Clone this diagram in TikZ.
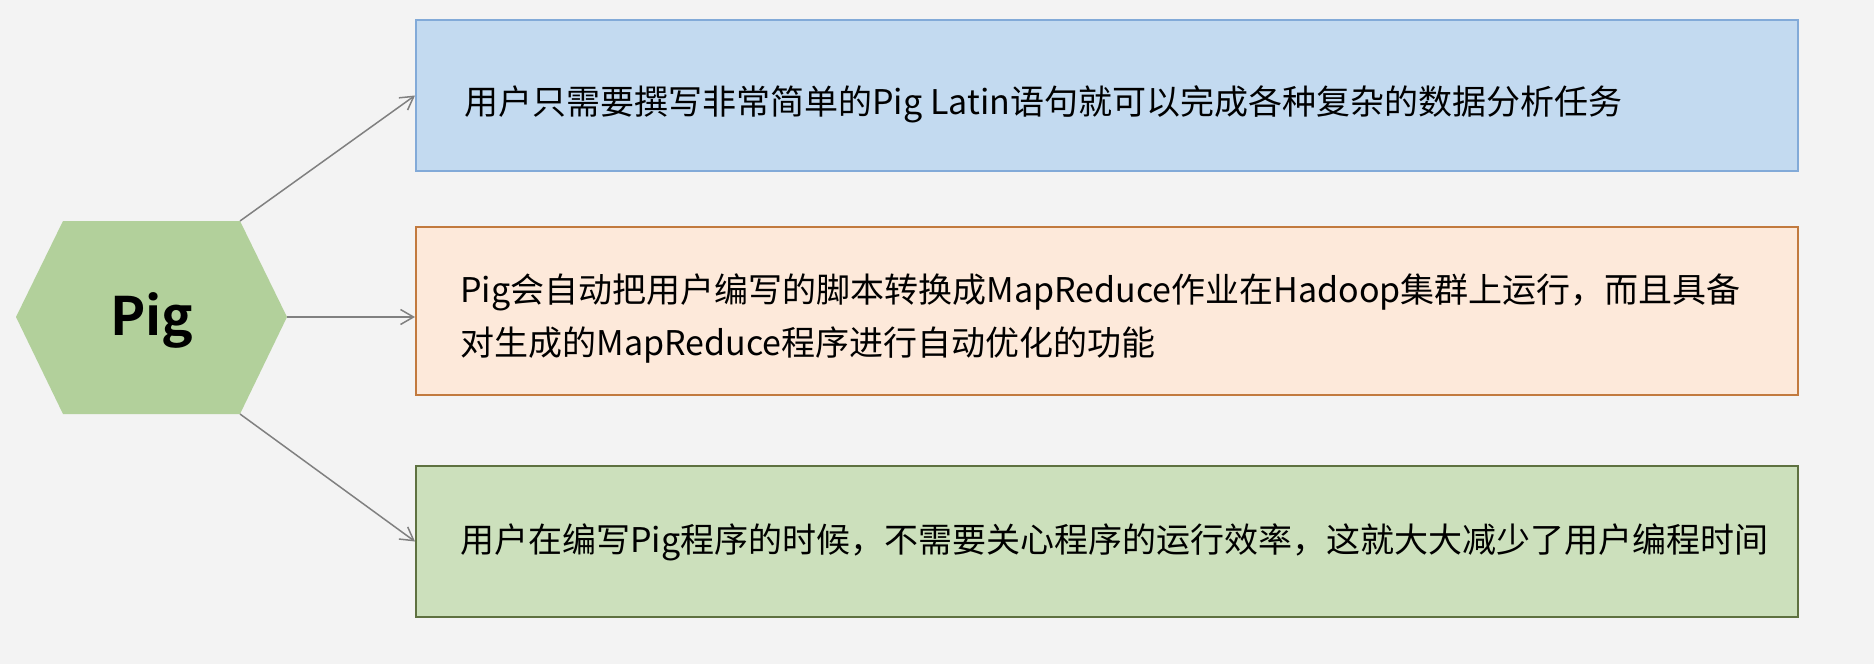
\documentclass[tikz,border=0pt]{standalone}
\usepackage{fontspec}
\setmainfont{Noto Sans CJK SC}[BoldFont={Noto Sans CJK SC Bold}]
\usetikzlibrary{arrows.meta}
\definecolor{bg}{HTML}{F3F3F3}
\definecolor{hexfill}{HTML}{B2D09B}
\definecolor{bluefill}{HTML}{C3DAF0}
\definecolor{blueline}{HTML}{82AAD8}
\definecolor{orangefill}{HTML}{FDE9DA}
\definecolor{orangeline}{HTML}{C27A3E}
\definecolor{greenfill}{HTML}{CCE0BC}
\definecolor{greenline}{HTML}{5E7140}
\definecolor{conncol}{HTML}{808080}
\tikzset{
  box/.style={draw, line width=1pt, inner sep=0pt, anchor=north west, minimum width=691pt},
  txt/.style={anchor=west, inner sep=0pt, align=left, font=\fontsize{17}{26.5}\selectfont},
  conn/.style={draw=conncol, line width=0.75pt, -{Straight Barb[length=6.5pt,width=7.5pt]}}
}
\begin{document}
\begin{tikzpicture}[x=0.5pt,y=-0.5pt]
\fill[bg] (0,0) rectangle (1874,664);
\useasboundingbox (0,0) rectangle (1874,664);
% hexagon
\coordinate (h1) at (16,317);
\coordinate (h2) at (63,221);
\coordinate (h3) at (240,221);
\coordinate (h4) at (287,317);
\coordinate (h5) at (240,414);
\coordinate (h6) at (63,414);
\fill[hexfill] (h1)--(h2)--(h3)--(h4)--(h5)--(h6)--cycle;
\node[font=\bfseries\fontsize{26.5}{30}\selectfont] (hex) at (152,320) {Pig};
% boxes
\node[box, draw=blueline, fill=bluefill, minimum height=75.5pt] (b1) at (415,19) {};
\node[box, draw=orangeline, fill=orangefill, minimum height=84pt] (b2) at (415,226) {};
\node[box, draw=greenline, fill=greenfill, minimum height=75.5pt] (b3) at (415,465) {};
% texts
\node[txt] (t1) at (464,104) {用户只需要撰写非常简单的Pig Latin语句就可以完成各种复杂的数据分析任务};
\node[txt] (t2) at (460,319) {Pig会自动把用户编写的脚本转换成MapReduce作业在Hadoop集群上运行，而且具备\\对生成的MapReduce程序进行自动优化的功能};
\node[txt] (t3) at (460,542) {用户在编写Pig程序的时候，不需要关心程序的运行效率，这就大大减少了用户编程时间};
% connectors
\draw[conn] (h3) -- (b1.west);
\draw[conn] (h4) -- (h4 -| b2.west);
\draw[conn] (h5) -- (b3.west);
\end{tikzpicture}
\end{document}
